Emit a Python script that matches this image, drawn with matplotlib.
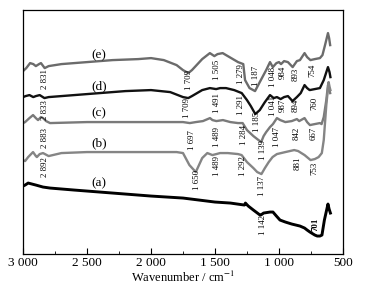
import matplotlib
matplotlib.use("Agg")
import matplotlib.pyplot as plt
from matplotlib.ticker import FixedLocator, MultipleLocator

plt.rcParams['font.family'] = ['Liberation Serif', 'DejaVu Serif']
plt.rcParams['mathtext.fontset'] = 'stix'

# FTIR spectra, wavenumber (cm-1) and offset transmittance (a.u.)
wn_e = [3000, 2975, 2945, 2920, 2900, 2875, 2860, 2831, 2800, 2700, 2500, 2300, 2100, 2000,
        1900, 1800, 1750, 1709, 1680, 1600, 1540, 1505, 1480, 1440, 1400, 1320, 1279, 1265,
        1230, 1187, 1150, 1100, 1070, 1048, 1020, 1000, 984, 960, 930, 893, 860, 836, 800,
        780, 754, 720, 680, 660, 640, 617, 608, 600]
t_e = [189, 192, 197, 196, 194, 196, 197, 192, 194, 196, 198, 200, 201, 202,
       200, 195, 190, 187, 190, 201, 207, 204, 206, 207, 204, 198, 196, 180,
       172, 169, 178, 190, 198, 193, 197, 198, 196, 199, 198, 193, 199, 200, 207,
       203, 200, 201, 202, 205, 215, 227, 222, 215]

wn_d = [3000, 2980, 2950, 2920, 2900, 2870, 2833, 2800, 2500, 2200, 2000, 1850, 1750, 1709,
        1680, 1600, 1540, 1491, 1460, 1414, 1350, 1291, 1250, 1220, 1185, 1150, 1110, 1070,
        1041, 1016, 987, 960, 930, 894, 860, 830, 800, 780, 760, 720, 680, 650, 617, 605, 598]
t_d = [163, 164, 165, 163, 164, 165, 162, 163, 166, 169, 170, 168, 163, 162,
       164, 170, 172, 171, 172, 172, 170, 167, 160, 154, 146, 150, 158, 165,
       162, 163, 161, 163, 164, 159, 163, 167, 175, 172, 170, 171, 172, 180, 193, 188, 183]

wn_c = [3000, 2984, 2950, 2922, 2900, 2883, 2860, 2844, 2820, 2789, 2500, 2000, 1750, 1697,
        1650, 1594, 1539, 1520, 1489, 1438, 1380, 1320, 1284, 1250, 1200, 1170, 1139, 1120,
        1100, 1070, 1047, 1016, 990, 950, 900, 860, 842, 800, 780, 758, 720, 680, 667, 650,
        630, 617, 608, 600]
t_c = [137, 138, 142, 145, 142, 140, 143, 142, 139, 137, 138, 138, 138, 137,
       138, 139, 142, 140, 139, 140, 138, 137, 137, 130, 124, 121, 118, 124,
       128, 133, 136, 142, 140, 138, 139, 141, 139, 142, 138, 135, 136, 137, 136, 143,
       160, 175, 172, 167]

wn_b = [3000, 2984, 2960, 2922, 2900, 2892, 2870, 2844, 2800, 2700, 2500, 1800, 1750, 1700,
        1650, 1600, 1560, 1520, 1489, 1460, 1400, 1320, 1292, 1250, 1200, 1170, 1137, 1110,
        1080, 1050, 1016, 950, 881, 850, 800, 753, 720, 690, 665, 650, 630, 612, 604, 598]
t_b = [100, 99, 103, 108, 104, 103, 106, 107, 104, 107, 108, 108, 107, 95,
       88, 102, 107, 105, 106, 107, 107, 106, 105, 98, 92, 88, 86, 92,
       98, 103, 106, 108, 110, 109, 105, 100, 101, 103, 107, 120, 155, 178, 173, 170]

wn_a = [3000, 2984, 2960, 2930, 2900, 2844, 2789, 2600, 2400, 2200, 2000, 1750, 1500, 1380,
        1270, 1262, 1255, 1240, 1200, 1148, 1142, 1120, 1070, 1047, 1020, 992, 950, 900,
        836, 800, 780, 758, 720, 701, 680, 664, 645, 617, 608, 598]
t_a = [74, 75, 77, 76, 75, 73, 72, 70, 68, 66, 64, 62, 58, 57,
       55, 57, 56, 54, 50, 45, 45, 47, 48, 48, 44, 40, 38, 36,
       34, 32, 30, 28, 25, 24, 24, 25, 40, 56, 51, 47]

curve_names = ["(e)", "(d)", "(c)", "(b)", "(a)"]
curve_name_y = [205, 174, 147, 117, 77]

# peak annotations: (text, wavenumber position, transmittance position)
peak_labels = [
    ("2 831", 2828, 181), ("1 709", 1703, 180), ("1 505", 1484, 190), ("1 279", 1297, 186),
    ("1 187", 1180, 184), ("1 048", 1047, 183), ("984", 969, 188), ("893", 867, 186),
    ("754", 742, 190),
    ("2 833", 2828, 150), ("1 709", 1719, 152), ("1 491", 1484, 157), ("1 291", 1297, 155),
    ("1 185", 1172, 138), ("1 041", 1047, 154), ("987", 969, 155), ("894", 867, 155),
    ("760", 727, 157),
    ("2 883", 2828, 122), ("1 697", 1680, 120), ("1 489", 1484, 123), ("1 284", 1273, 125),
    ("1 139", 1125, 110), ("1 047", 1016, 123), ("842", 859, 127), ("667", 727, 127),
    ("2 892", 2828, 93), ("1 650", 1641, 80), ("1 489", 1484, 94), ("1 292", 1281, 94),
    ("1 137", 1133, 74), ("881", 852, 97), ("753", 727, 92),
    ("1 142", 1125, 35), ("701", 711, 36),
]

x_ticks = [3000, 2500, 2000, 1500, 1000, 500]
x_tick_labels = ["3 000", "2 500", "2 000", "1 500", "1 000", "500"]


def draw():
    fig = plt.figure(figsize=(3.66, 2.89), dpi=100)
    ax = fig.add_axes([0.063, 0.121, 0.874, 0.844])

    ax.plot(wn_e, t_e, color="#6b6b6b", lw=1.7)
    ax.plot(wn_d, t_d, color="#111111", lw=1.7)
    ax.plot(wn_c, t_c, color="#7a7a7a", lw=1.7)
    ax.plot(wn_b, t_b, color="#858585", lw=1.7)
    ax.plot(wn_a, t_a, color="black", lw=2.1)

    for name, y in zip(curve_names, curve_name_y):
        ax.text(2406, y, name, fontsize=9.5, ha="center", va="center")

    for txt, x, y in peak_labels:
        weight = "bold" if txt == "701" else "normal"
        ax.text(x, y, txt, fontsize=6.3, rotation=90, ha="center", va="center",
                fontweight=weight)

    ax.set_xlim(3000, 500)
    ax.set_ylim(6, 250)
    ax.xaxis.set_major_locator(FixedLocator(x_ticks))
    ax.set_xticklabels(x_tick_labels, fontsize=9.5)
    ax.xaxis.set_minor_locator(MultipleLocator(250))
    ax.tick_params(axis="x", which="major", direction="in", length=4, pad=2)
    ax.tick_params(axis="x", which="minor", direction="in", length=2.5)
    ax.set_yticks([])
    ax.set_xlabel("Wavenumber / cm$^{-1}$", fontsize=9, labelpad=1)
    for s in ax.spines.values():
        s.set_linewidth(0.9)

    fig.savefig("out.png", dpi=100)


if __name__ == "__main__":
    draw()
